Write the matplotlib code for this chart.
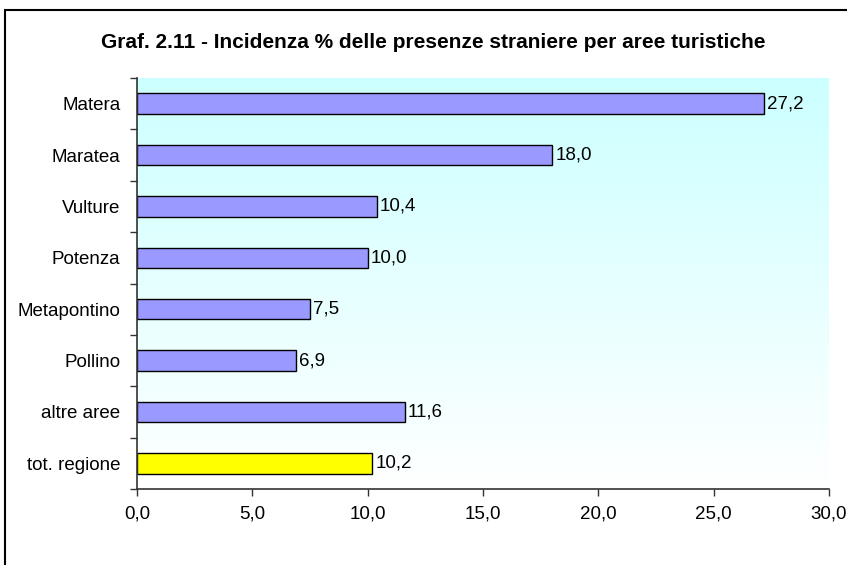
import numpy as np
import matplotlib.pyplot as plt
from matplotlib.patches import Rectangle
from matplotlib.colors import LinearSegmentedColormap

plt.rcParams['font.family'] = ['Liberation Sans', 'DejaVu Sans']

# data (top to bottom)
areas = ['Matera', 'Maratea', 'Vulture', 'Potenza', 'Metapontino', 'Pollino', 'altre aree', 'tot. regione']
incidenza = [27.2, 18.0, 10.4, 10.0, 7.5, 6.9, 11.6, 10.2]
bar_colors = ['#9999FF'] * 7 + ['#FFFF00']
x_ticks = [0, 5, 10, 15, 20, 25, 30]

W, H = 847, 565
fig = plt.figure(figsize=(W / 100, H / 100), dpi=100)
ax = fig.add_axes([137 / W, 1 - 489 / H, (829 - 137) / W, (489 - 78) / H])

# outer frame (right and bottom edges fall outside the image)
fig.patches.append(Rectangle((5 / W, -0.1), 1.2, 1.1 - 10 / H, transform=fig.transFigure,
                             fill=False, edgecolor='black', linewidth=1.5))

fig.text(433 / W, 1 - 43 / H, 'Graf. 2.11 - Incidenza % delle presenze straniere per aree turistiche',
         ha='center', va='center', fontsize=15, fontweight='bold')

n = len(areas)
ax.set_xlim(0, 30)
ax.set_ylim(n - 0.5, -0.5)

# gradient background: light cyan at top fading to white at bottom
cmap = LinearSegmentedColormap.from_list('bg', ['#CCFFFF', '#FFFFFF'])
ax.imshow(np.linspace(0, 1, 256).reshape(-1, 1), cmap=cmap, aspect='auto',
          extent=[0, 30, n - 0.5, -0.5], zorder=0)

ypos = np.arange(n)
ax.barh(ypos, incidenza, height=0.4, color=bar_colors, edgecolor='black', linewidth=1, zorder=2)
for y, v in zip(ypos, incidenza):
    ax.text(v + 0.13, y, f'{v:.1f}'.replace('.', ','), va='center', ha='left', fontsize=13.5)

ax.set_xticks(x_ticks)
ax.set_xticklabels([f'{t:.1f}'.replace('.', ',') for t in x_ticks], fontsize=13.5)
ax.set_yticks(ypos)
ax.set_yticklabels(areas, fontsize=13.5)
ax.set_yticks(np.arange(-0.5, n, 1), minor=True)
ax.tick_params(axis='y', which='major', length=0, pad=12)
ax.tick_params(axis='y', which='minor', length=5, width=1, color='#333333')
ax.tick_params(axis='x', length=5, width=1, color='#333333', pad=7)

for s in ['top', 'right']:
    ax.spines[s].set_visible(False)
for s in ['left', 'bottom']:
    ax.spines[s].set_color('#333333')
    ax.spines[s].set_linewidth(1.2)

fig.savefig('out.png', dpi=100)
